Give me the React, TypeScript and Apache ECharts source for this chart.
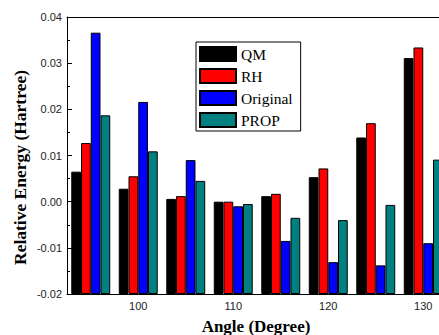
import React, { useEffect, useRef } from "react";
import * as echarts from "echarts";

const angles = ["95", "100", "105", "110", "115", "120", "125", "130"];
const qm = [0.0065, 0.0028, 0.0006, 0.0, 0.0012, 0.0053, 0.0139, 0.0311];
const rh = [0.0127, 0.0055, 0.0012, 0.0, 0.0017, 0.0072, 0.017, 0.0334];
const original = [0.0366, 0.0216, 0.009, -0.001, -0.0085, -0.0131, -0.0138, -0.009];
const prop = [0.0187, 0.0109, 0.0045, -0.0005, -0.0035, -0.004, -0.0007, 0.0091];
const seriesNames = ["QM", "RH", "Original", "PROP"];
const seriesColors = ["#000000", "#ff0000", "#0000ff", "#008080"];

export default function App() {
  const ref = useRef<HTMLDivElement>(null);
  useEffect(() => {
    document.body.style.margin = "0";
    const chart = echarts.init(ref.current!, null, { renderer: "svg" });
    const serif = "'Liberation Serif', 'Times New Roman', serif";
    const sans = "'Liberation Sans', Arial, sans-serif";
    const datasets = [qm, rh, original, prop];
    chart.setOption({
      animation: false,
      backgroundColor: "#ffffff",
      grid: { left: 67, top: 17, width: 380, height: 277, outerBoundsMode: "none" },
      legend: {
        orient: "vertical",
        left: 196,
        top: 42,
        padding: [4, 8, 3, 3],
        itemWidth: 36,
        itemHeight: 14,
        itemGap: 6,
        borderColor: "#000",
        borderWidth: 1,
        icon: "rect",
        data: seriesNames,
        textStyle: { fontFamily: serif, fontSize: 15.5, color: "#000", lineHeight: 14 },
      },
      xAxis: [
        {
          type: "category",
          data: angles,
          position: "bottom",
          axisLine: { onZero: false, lineStyle: { color: "#000", width: 1 } },
          axisTick: { inside: true, alignWithLabel: true, length: 4, lineStyle: { color: "#000" } },
          axisLabel: {
            interval: (i: number) => i % 2 === 1,
            fontFamily: sans,
            fontSize: 11,
            color: "#222",
            margin: 6,
          },
          splitLine: { show: false },
        },
        {
          type: "category",
          data: angles,
          position: "top",
          axisLine: { onZero: false, lineStyle: { color: "#000", width: 1 } },
          axisTick: { inside: true, alignWithLabel: true, length: 3, lineStyle: { color: "#000" } },
          axisLabel: { show: false },
          splitLine: { show: false },
        },
      ],
      yAxis: {
        type: "value",
        min: -0.02,
        max: 0.04,
        interval: 0.01,
        startValue: -0.02,
        axisLine: { show: true, onZero: false, lineStyle: { color: "#000", width: 1 } },
        axisTick: { show: true, inside: true, length: 5, lineStyle: { color: "#000" } },
        minorTick: { show: true, splitNumber: 2, length: 3, lineStyle: { color: "#000" } },
        axisLabel: {
          formatter: (v: number) => v.toFixed(2),
          fontFamily: sans,
          fontSize: 11,
          color: "#222",
          margin: 5,
        },
        splitLine: { show: false },
      },
      series: seriesNames.map((name, i) => ({
        name,
        type: "bar",
        data: datasets[i],
        barGap: "0%",
        barCategoryGap: "18%",
        itemStyle: { color: seriesColors[i], borderColor: "#000", borderWidth: 1 },
      })),
      graphic: [
        {
          type: "text",
          x: 20,
          y: 167.5,
          rotation: Math.PI / 2,
          style: {
            text: "Relative Energy (Hartree)",
            fontFamily: serif,
            fontWeight: "bold",
            fontSize: 17.5,
            fill: "#000",
            align: "center",
            verticalAlign: "middle",
          },
        },
        {
          type: "text",
          x: 256,
          y: 326.7,
          style: {
            text: "Angle (Degree)",
            fontFamily: serif,
            fontWeight: "bold",
            fontSize: 17,
            fill: "#000",
            align: "center",
            verticalAlign: "middle",
          },
        },
      ],
    });
    return () => chart.dispose();
  }, []);
  return <div ref={ref} style={{ width: 439, height: 335 }} />;
}
